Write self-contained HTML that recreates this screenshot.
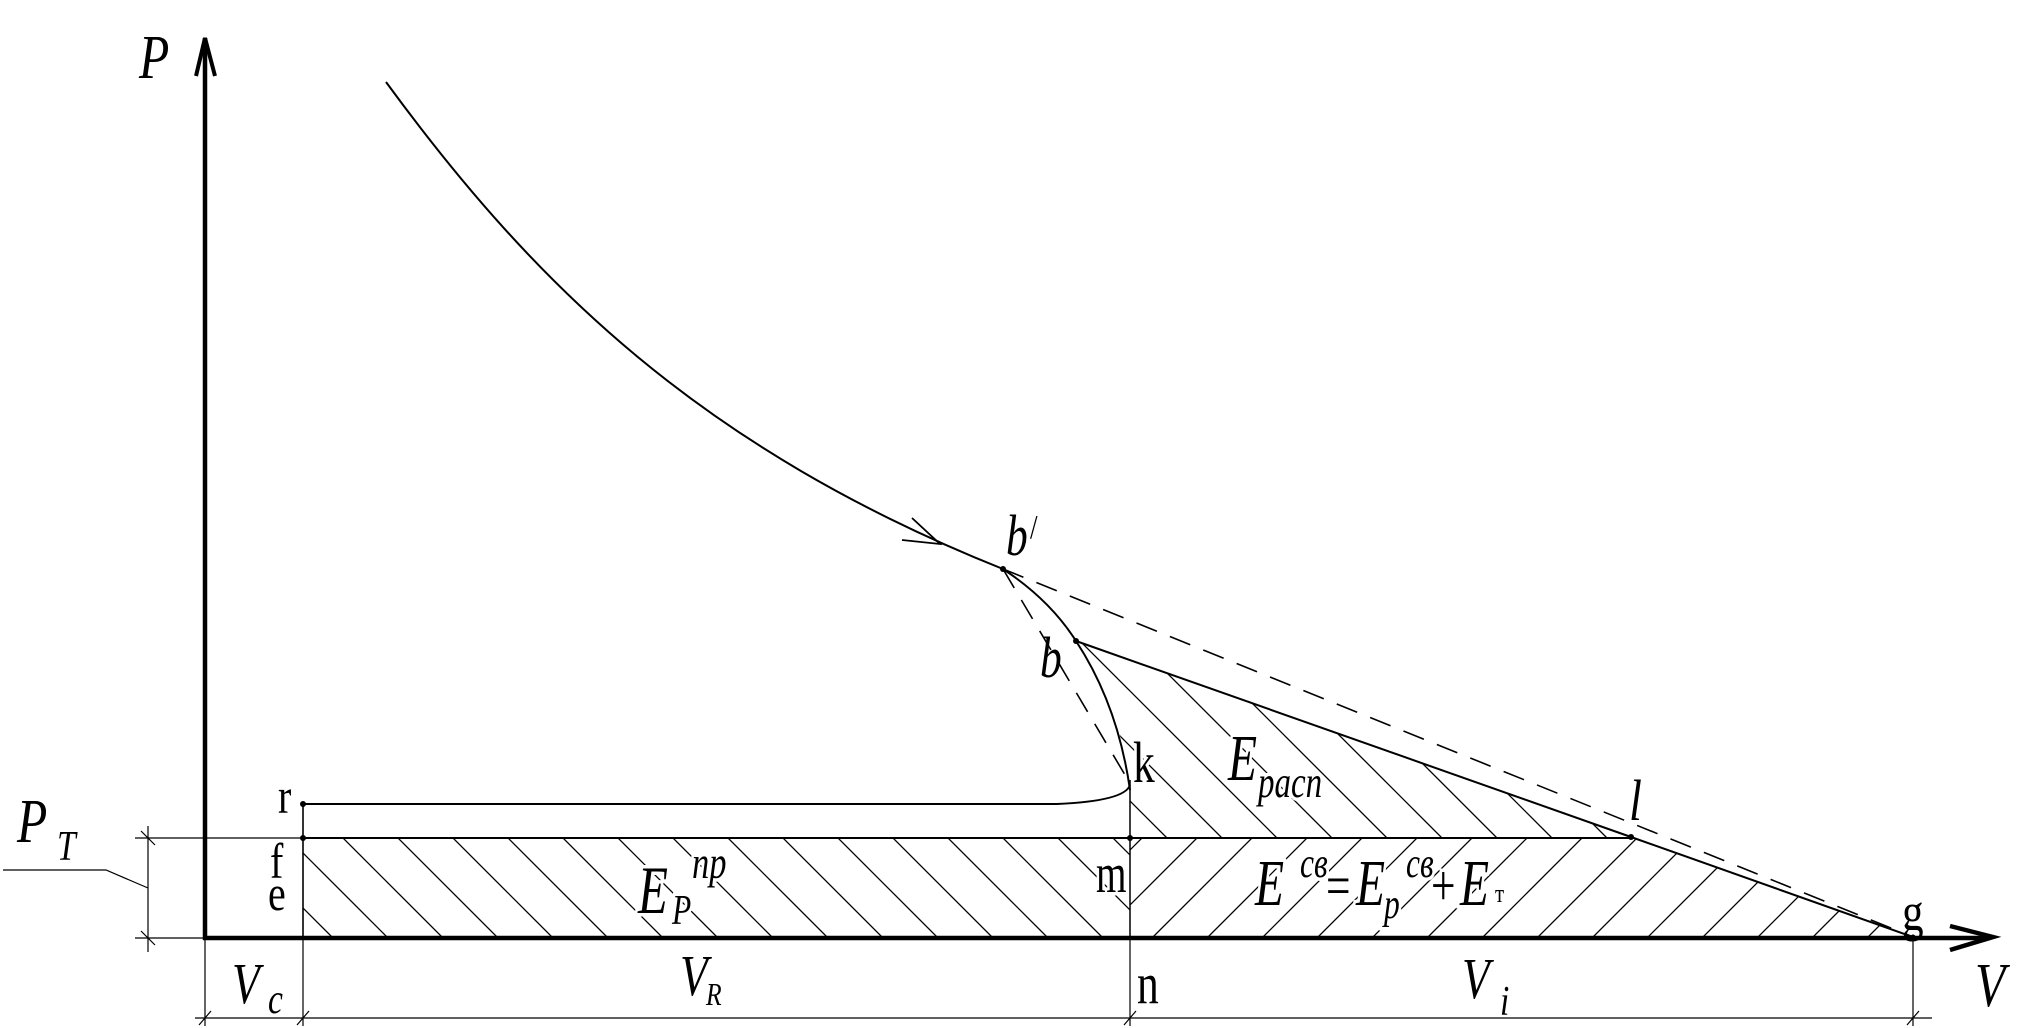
<!DOCTYPE html>
<html><head><meta charset="utf-8"><style>
html,body{margin:0;padding:0;background:#fff}
svg{display:block}
text{font-family:"Liberation Serif",serif;fill:#000}
.i{font-style:italic}
.h text{stroke:#fff;stroke-width:7;paint-order:stroke}
</style></head><body>
<svg width="2020" height="1028" viewBox="0 0 2020 1028" xmlns="http://www.w3.org/2000/svg">
<defs>
<clipPath id="c1"><rect x="303" y="838" width="827" height="100"/></clipPath>
<clipPath id="c2"><polygon points="1130,838 1631,838 1913,937 1130,938"/></clipPath>
<clipPath id="c3"><path d="M1076,641 Q1118,705 1130,780 L1130,838 L1631,838 Z"/></clipPath>
</defs>
<g stroke="#000" stroke-width="1.3" fill="none">
<g clip-path="url(#c1)" id="h1"></g>
<g clip-path="url(#c2)" id="h2"></g>
<g clip-path="url(#c3)" id="h3"></g>
</g>
<g stroke="#000" fill="none">
<line x1="205" y1="38" x2="205" y2="940" stroke-width="4.5"/>
<polyline points="196,76 205,38 215,76" stroke-width="4"/>
<line x1="203" y1="938" x2="1990" y2="938" stroke-width="4.5"/>
<polyline points="1950,926 1993,937 1950,950" stroke-width="4.5"/>
<g stroke-width="1.2">
<line x1="195" y1="1018" x2="1932" y2="1018"/>
<line x1="205" y1="938" x2="205" y2="1026"/>
<line x1="303" y1="938" x2="303" y2="1026"/>
<line x1="1130" y1="938" x2="1130" y2="1026"/>
<line x1="1913" y1="938" x2="1913" y2="1026"/>
<line x1="199" y1="1025" x2="211" y2="1011"/>
<line x1="297" y1="1025" x2="309" y2="1011"/>
<line x1="1124" y1="1025" x2="1136" y2="1011"/>
<line x1="1907" y1="1025" x2="1919" y2="1011"/>
<line x1="135" y1="838" x2="303" y2="838"/>
<line x1="135" y1="938" x2="205" y2="938"/>
<line x1="148" y1="826" x2="148" y2="952"/>
<line x1="141" y1="831" x2="155" y2="845"/>
<line x1="141" y1="931" x2="155" y2="945"/>
<polyline points="3,870 106,870 148,888"/>
</g>
<g stroke-width="2">
<path d="M386,82 C536,287 703,449 1003,569"/>
<polyline points="912,518 940,544 902,540" stroke-width="1.8"/>
<path d="M1003,569 Q1050,600 1076,641 Q1118,705 1130,790"/>
<polyline points="1076,641 1631,837 1913,937"/>
<path d="M303,804 L1057,804 Q1125,801 1130,785"/>
<line x1="303" y1="804" x2="303" y2="938" stroke-width="1.6"/>
<line x1="303" y1="838" x2="1631" y2="838"/>
</g>
<line x1="1130" y1="780" x2="1130" y2="938" stroke-width="1.5"/>
<g stroke-width="1.6" stroke-dasharray="22,14">
<line x1="1003" y1="569" x2="1913" y2="937"/>
<line x1="1003" y1="569" x2="1128" y2="780"/>
</g>
</g>
<g fill="#000">
<circle cx="303" cy="804" r="3"/><circle cx="303" cy="838" r="3"/>
<circle cx="1003" cy="569" r="3"/><circle cx="1076" cy="641" r="3"/>
<circle cx="1130" cy="838" r="3"/><circle cx="1631" cy="837" r="3"/>
<circle cx="1913" cy="937" r="2.5"/>
</g>
<text transform="translate(139 78) scale(.8 1)" class="i" font-size="62">P</text>
<text transform="translate(1975 1006) scale(.8 1)" class="i" font-size="62">V</text>
<text transform="translate(17 842) scale(.8 1)" class="i" font-size="62">P</text>
<text transform="translate(57 860) scale(.8 1)" class="i" font-size="42">T</text>
<text transform="translate(278 813) scale(.8 1)" font-size="50">r</text>
<text transform="translate(270 878) scale(.8 1)" font-size="50">f</text>
<text transform="translate(268 910) scale(.8 1)" font-size="50">e</text>
<text transform="translate(232 1003) scale(.78 1)" class="i" font-size="58">V</text>
<text transform="translate(268 1013) scale(.8 1)" class="i" font-size="42">c</text>
<text transform="translate(680 995) scale(.78 1)" class="i" font-size="58">V</text>
<text transform="translate(706 1005) scale(.8 1)" class="i" font-size="32">R</text>
<text transform="translate(1137 1003) scale(.75 1)" font-size="58">n</text>
<text transform="translate(1462 998) scale(.78 1)" class="i" font-size="58">V</text>
<text transform="translate(1500 1015) scale(.8 1)" class="i" font-size="42">i</text>
<g class="h">
<text transform="translate(638 913) scale(.72 1)" class="i" font-size="68">E</text>
<text transform="translate(672 924) scale(.75 1)" class="i" font-size="42">P</text>
<text transform="translate(692 878) scale(.75 1)" class="i" font-size="46">np</text>
<text transform="translate(1096 892) scale(.7 1)" font-size="56">m</text>
<text transform="translate(1255 905) scale(.72 1)" class="i" font-size="66">E</text>
<text transform="translate(1300 877) scale(.75 1)" class="i" font-size="42">cв</text>
<text transform="translate(1326 905) scale(.75 1)" font-size="58">=</text>
<text transform="translate(1356 905) scale(.72 1)" class="i" font-size="66">E</text>
<text transform="translate(1384 918) scale(.75 1)" class="i" font-size="42">p</text>
<text transform="translate(1406 877) scale(.75 1)" class="i" font-size="42">cв</text>
<text transform="translate(1431 905) scale(.75 1)" font-size="58">+</text>
<text transform="translate(1460 905) scale(.72 1)" class="i" font-size="66">E</text>
<text transform="translate(1495 902) scale(.8 1)" font-size="26">т</text>
<text transform="translate(1228 780) scale(.72 1)" class="i" font-size="66">E</text>
<text transform="translate(1258 797) scale(.75 1)" class="i" font-size="44">pacn</text>
<text transform="translate(1133 782) scale(.75 1)" font-size="58">k</text>
</g>
<text transform="translate(1006 555) scale(.75 1)" class="i" font-size="58">b</text>
<text transform="translate(1030 538) scale(.8 1)" font-size="34">/</text>
<text transform="translate(1040 677) scale(.75 1)" class="i" font-size="58">b</text>
<text transform="translate(1629 820) scale(.8 1)" class="i" font-size="58">l</text>
<text transform="translate(1902 930) scale(.8 1)" font-size="54">g</text>
<script>
(function(){
var ns="http://www.w3.org/2000/svg";
function ln(g,x1,y1,x2,y2){var l=document.createElementNS(ns,"line");l.setAttribute("x1",x1);l.setAttribute("y1",y1);l.setAttribute("x2",x2);l.setAttribute("y2",y2);g.appendChild(l);}
var g1=document.getElementById("h1"),g2=document.getElementById("h2"),g3=document.getElementById("h3");
for(var xb=333-55;xb<1300;xb+=55){ln(g1,xb,938,xb-110,828);}
for(var xb=1152-55*3;xb<2000;xb+=55){ln(g2,xb,938,xb+110,828);}
for(var xb=1167-55*5;xb<1700;xb+=55){ln(g3,xb,838,xb-220,618);}
})();
</script>
</svg>
</body></html>
